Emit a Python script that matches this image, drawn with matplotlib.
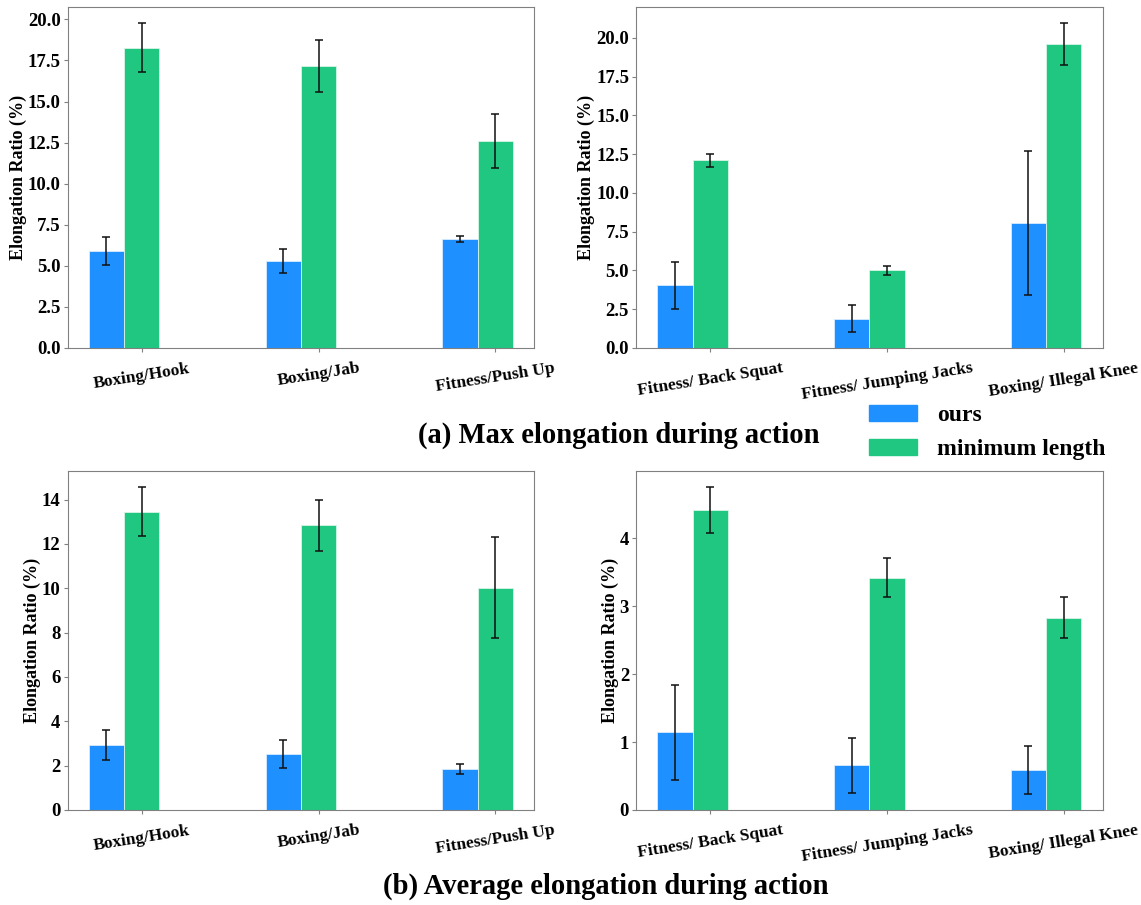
import matplotlib
matplotlib.use("Agg")
import matplotlib.pyplot as plt
import matplotlib.patches as mpatches
import numpy as np

plt.rcParams["font.family"] = ["Liberation Serif", "DejaVu Serif"]
plt.rcParams["font.weight"] = "bold"

# -----------------------------
# Data
# -----------------------------
labels_left = ["Boxing/Hook", "Boxing/Jab", "Fitness/Push Up"]
labels_right = ["Fitness/ Back Squat", "Fitness/ Jumping Jacks", "Boxing/ Illegal Knee"]

# (a) max elongation
max_ours_left = [5.92, 5.29, 6.63]
max_ours_left_err = [0.85, 0.72, 0.20]
max_min_left = [18.27, 17.17, 12.61]
max_min_left_err = [1.50, 1.59, 1.63]

max_ours_right = [4.03, 1.88, 8.08]
max_ours_right_err = [1.50, 0.86, 4.64]
max_min_right = [12.11, 5.00, 19.61]
max_min_right_err = [0.43, 0.30, 1.34]

# (b) average elongation
avg_ours_left = [2.93, 2.54, 1.86]
avg_ours_left_err = [0.66, 0.63, 0.23]
avg_min_left = [13.45, 12.83, 10.02]
avg_min_left_err = [1.11, 1.16, 2.28]

avg_ours_right = [1.14, 0.655, 0.587]
avg_ours_right_err = [0.70, 0.40, 0.35]
avg_min_right = [4.41, 3.42, 2.83]
avg_min_right_err = [0.34, 0.28, 0.30]

blue = "#1e90ff"
green = "#20c780"
width = 0.2
err_style = dict(ecolor="#111111", elinewidth=1.1, capsize=2.8, capthick=1.1)


def draw(ax, labels, ours, ours_err, mins, mins_err):
    x = np.arange(len(labels))
    ax.bar(x - width, ours, width, yerr=ours_err, color=blue,
           edgecolor="#d8ecff", linewidth=0.6, error_kw=err_style)
    ax.bar(x, mins, width, yerr=mins_err, color=green,
           edgecolor="#d8f5e8", linewidth=0.6, error_kw=err_style)
    ax.set_xticks(x)
    ax.set_xticklabels(labels, rotation=9, fontsize=12.5, fontweight="bold")
    ax.set_ylabel("Elongation Ratio (%)", fontsize=13, fontweight="bold", labelpad=0.5)
    ax.tick_params(axis="y", labelsize=13.5, color="#808080", length=3, pad=2)
    ax.tick_params(axis="x", color="#808080", length=3, pad=6)
    for s in ax.spines.values():
        s.set_color("#808080")


fig = plt.figure(figsize=(11.41, 9.05), dpi=100)
ax1 = fig.add_axes([0.0592, 0.6155, 0.409, 0.3768])
ax2 = fig.add_axes([0.5574, 0.6155, 0.409, 0.3768])
ax3 = fig.add_axes([0.0592, 0.1050, 0.409, 0.3746])
ax4 = fig.add_axes([0.5574, 0.1050, 0.409, 0.3746])

draw(ax1, labels_left, max_ours_left, max_ours_left_err, max_min_left, max_min_left_err)
draw(ax2, labels_right, max_ours_right, max_ours_right_err, max_min_right, max_min_right_err)
draw(ax3, labels_left, avg_ours_left, avg_ours_left_err, avg_min_left, avg_min_left_err)
draw(ax4, labels_right, avg_ours_right, avg_ours_right_err, avg_min_right, avg_min_right_err)

fig.text(0.542, 0.519, "(a) Max elongation during action", fontsize=20.6,
         fontweight="bold", ha="center", va="center")
fig.text(0.531, 0.021, "(b) Average elongation during action", fontsize=20.6,
         fontweight="bold", ha="center", va="center")

handles = [mpatches.Patch(color=blue, label="ours"),
           mpatches.Patch(color=green, label="minimum length")]
fig.legend(handles=handles, loc="upper left", bbox_to_anchor=(0.762, 0.553),
           frameon=False, handlelength=2.0, handleheight=0.68,
           borderpad=0, borderaxespad=0, labelspacing=0.55, handletextpad=0.85,
           prop=dict(weight="bold", size=17))

fig.savefig("out.png", dpi=100)
